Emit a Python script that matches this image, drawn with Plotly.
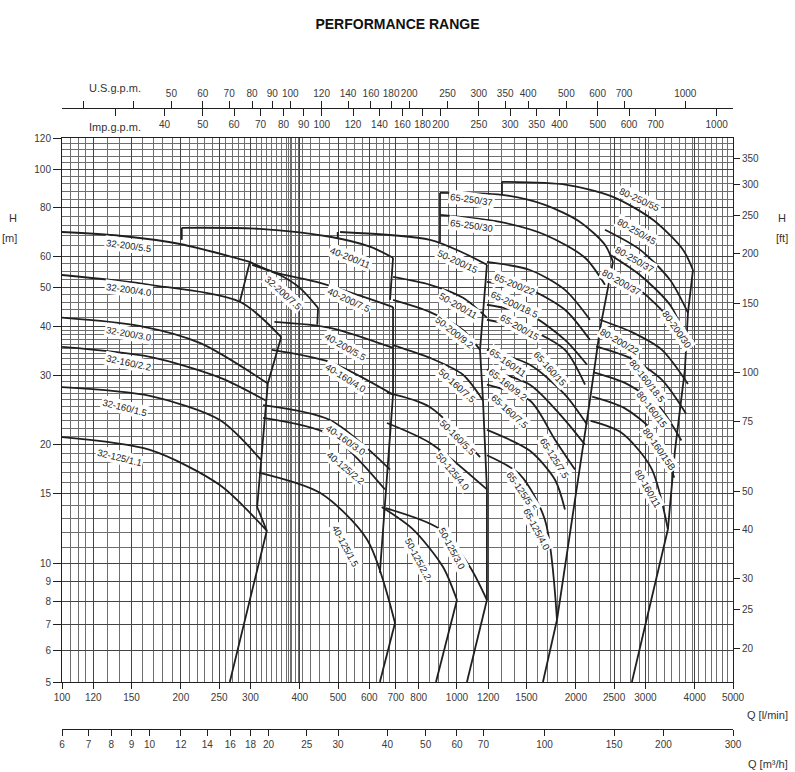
import numpy as np
import plotly.graph_objects as go

# ---- axis ticks ----
Q_TICKS = [100, 120, 150, 200, 250, 300, 400, 500, 600, 700, 800, 1000, 1200, 1500,
           2000, 2500, 3000, 4000, 5000]
M3H_TICKS = [6, 7, 8, 9, 10, 12, 14, 16, 18, 20, 25, 30, 40, 50, 60, 70, 100, 150, 200, 300]
US_TICKS = [30, 40, 50, 60, 70, 80, 90, 100, 120, 140, 160, 180, 200, 250, 300, 350,
            400, 500, 600, 700, 1000]
US_LABELS = ['', ''] + [str(v) for v in US_TICKS[2:]]
IMP_TICKS = [30, 40, 50, 60, 70, 80, 90, 100, 120, 140, 160, 180, 200, 250, 300, 350,
             400, 500, 600, 700, 1000]
IMP_LABELS = [''] + [str(v) for v in IMP_TICKS[1:]]
H_TICKS = [5, 6, 7, 8, 9, 10, 15, 20, 30, 40, 50, 60, 80, 100, 120]
FT_TICKS = [20, 25, 30, 40, 50, 75, 100, 150, 200, 250, 300, 350]

# ---- pump curves (Q in l/min, H in m) ----
CURVES_32 = [
    ([100, 140, 199, 299], [69.3, 67.8, 64.6, 58.2]),
    ([100, 167, 282, 359], [53.9, 50.9, 46.1, 37.5]),
    ([100, 158, 224, 332], [42.0, 40.0, 36.2, 28.6]),
    ([100, 167, 251, 328], [35.4, 33.4, 29.6, 25.9]),
    ([100, 167, 251, 319], [28.0, 26.6, 23.1, 18.3]),
    ([100, 167, 251, 330], [20.9, 19.4, 15.8, 12.1]),
    ([303, 356, 400, 445], [57.2, 53.9, 50.0, 44.5]),
]
EDGES_32 = [
    ([299, 282], [58.2, 46.1]),
    ([445, 443], [44.5, 40.3]),
    ([359, 332, 312, 330, 266], [37.5, 28.6, 13.9, 12.1, 5.0]),
]

CURVES_40 = [
    ([201, 317, 477, 602, 689], [71.0, 70.6, 67.4, 63.6, 59.6]),
    ([299, 342, 450, 578, 689], [58.2, 54.9, 51.5, 47.5, 44.7]),
    ([345, 477, 689], [41.0, 39.6, 35.2]),
    ([340, 477, 689], [34.8, 32.4, 26.8]),
    ([323, 477, 677], [25.2, 23.1, 17.3]),
    ([323, 477, 657], [23.4, 21.2, 15.4]),
    ([315, 450, 592, 697], [17.0, 15.1, 11.5, 7.06]),
]
EDGES_40 = [
    ([201, 201], [71.0, 66.2]),
    ([689, 677], [59.6, 46.6]),
    ([689, 689, 638], [44.7, 26.8, 9.46]),
    ([697, 638], [7.06, 5.0]),
]

CURVES_50 = [
    ([506, 855, 1036, 1191], [69.3, 66.2, 61.4, 57.2]),
    ([689, 855, 1036, 1191], [53.3, 50.9, 47.2, 42.0]),
    ([689, 855, 1036, 1144], [46.6, 43.4, 39.1, 34.8]),
    ([689, 855, 1036, 1164], [35.8, 33.2, 30.1, 25.9]),
    ([665, 855, 1144], [27.1, 24.9, 18.6]),
    ([665, 855, 1191], [22.7, 20.2, 15.4]),
    ([660, 906, 1079, 1191], [13.8, 12.2, 9.79, 8.07]),
    ([645, 774, 922, 1000], [13.9, 12.2, 9.79, 8.07]),
]
EDGES_50 = [
    ([499, 499], [69.3, 67.0]),
    ([1191, 1144, 1164, 1191, 1191], [57.2, 34.8, 25.9, 15.4, 8.07]),
    ([1000, 885], [8.07, 5.0]),
    ([1191, 1060], [8.07, 5.0]),
]

CURVES_65 = [
    ([906, 1300, 1670, 2049, 2370, 2483], [87.1, 86.1, 81.2, 73.5, 64.3, 58.2]),
    ([906, 1285, 1670, 2110, 2370], [76.6, 73.5, 68.2, 59.6, 50.9]),
    ([1191, 1530, 1877, 2171], [58.2, 55.5, 49.4, 41.5]),
    ([1191, 1530, 1877, 2171], [51.8, 49.4, 44.0, 36.9]),
    ([1191, 1530, 1877, 2135], [45.3, 42.7, 36.9, 31.9]),
    ([1191, 1530, 1877, 2110], [41.5, 39.1, 34.8, 28.4]),
    ([1191, 1530, 1877, 2135], [34.8, 31.9, 26.8, 22.5]),
    ([1191, 1530, 1877, 2110], [31.0, 28.4, 23.1, 20.0]),
    ([1191, 1530, 1771, 1990], [28.4, 25.9, 20.6, 17.3]),
    ([1191, 1530, 1771, 1877], [21.8, 19.3, 16.3, 13.7]),
    ([1191, 1444, 1670, 1792], [18.8, 16.8, 12.9, 7.19]),
]
EDGES_65 = [
    ([906, 906], [87.1, 65.4]),
    ([2483, 2301, 2171, 1990, 1792], [58.2, 39.1, 25.9, 14.4, 7.19]),
    ([1792, 1651], [7.19, 5.0]),
]

CURVES_80 = [
    ([1300, 1896, 2483, 3135, 3735, 3959], [92.9, 91.3, 85.1, 74.4, 62.5, 55.5]),
    ([2370, 2906, 3461, 3845], [70.2, 62.5, 52.4, 43.2]),
    ([2440, 2906, 3461, 3777], [60.7, 53.9, 45.3, 38.0]),
    ([2440, 2906, 3461, 3777], [55.5, 49.4, 41.5, 34.8]),
    ([2301, 2773, 3304, 3845], [41.5, 38.6, 34.8, 28.5]),
    ([2250, 2773, 3304, 3800], [35.5, 33.0, 29.2, 24.0]),
    ([2220, 2700, 3250, 3700], [30.5, 28.5, 25.0, 20.5]),
    ([2200, 2650, 3150, 3550], [26.5, 24.8, 21.5, 16.5]),
    ([2180, 2600, 3100, 3421], [23.0, 21.5, 17.5, 12.2]),
]
EDGES_80 = [
    ([1300, 1300], [92.9, 86.1]),
    ([3959, 3845, 3777, 3564, 3421], [55.5, 43.2, 31.0, 19.3, 12.2]),
    ([3421, 2773], [12.2, 5.0]),
]

# ---- curve labels: text, Q, H, angle ----
LABELS = [
    ('32-200/5.5', 147, 63.9, 8), ('32-200/4.0', 147, 49.4, 8),
    ('32-200/3.0', 147, 38.4, 10), ('32-160/2.2', 147, 32.4, 12),
    ('32-160/1.5', 144, 24.8, 14), ('32-125/1.1', 140, 18.6, 14),
    ('32-200/7.5', 363, 48.8, 42),
    ('40-200/11', 536, 59.6, 22), ('40-200/7.5', 530, 46.6, 25),
    ('40-200/5.5', 521, 35.6, 30), ('40-160/4.0', 521, 29.6, 32),
    ('40-160/3.0', 521, 20.6, 35), ('40-125/2.2', 521, 17.5, 40),
    ('40-125/1.5', 521, 11.1, 62),
    ('50-200/15', 1006, 58.2, 25), ('50-200/11', 1006, 45.0, 30),
    ('50-200/9.2', 988, 38.6, 38), ('50-160/7.5', 1000, 28.2, 42),
    ('50-160/5.5', 1006, 20.9, 45), ('50-125/4.0', 977, 17.1, 50),
    ('50-125/3.0', 971, 10.9, 62), ('50-125/2.2', 797, 10.3, 62),
    ('65-250/37', 1091, 83.8, 8), ('65-250/30', 1091, 71.8, 8),
    ('65-200/22', 1402, 50.9, 22), ('65-200/18.5', 1402, 45.3, 25),
    ('65-200/15', 1444, 39.6, 30), ('65-160/15', 1722, 31.3, 48),
    ('65-160/11', 1346, 32.4, 35), ('65-160/9.2', 1346, 28.4, 38),
    ('65-160/7.5', 1362, 24.3, 42), ('65-125/7.5', 1771, 18.5, 58),
    ('65-125/5.5', 1461, 15.2, 55), ('65-125/4.0', 1594, 12.2, 62),
    ('80-250/55', 2906, 83.8, 25), ('80-250/45', 2856, 69.3, 30),
    ('80-250/37', 2822, 58.9, 30), ('80-200/37', 2617, 51.5, 30),
    ('80-200/30', 3606, 39.1, 55), ('80-200/22', 2584, 36.5, 30),
    ('80-160/18.5', 3044, 29.0, 52), ('80-160/15', 3116, 24.5, 52),
    ('80-160/15B', 3265, 19.5, 55), ('80-160/11', 3044, 15.5, 60),
]

# grid lines of the log paper
grid_q = (list(range(100, 120, 5)) + list(range(120, 400, 10)) + list(range(400, 700, 25))
          + list(range(700, 1000, 50)) + list(range(1000, 2000, 100)) + list(range(2000, 5001, 150))
          + list(range(374, 410, 8)))
grid_h = list(range(5, 41)) + [42, 44, 46, 48, 50, 52.5, 55, 57.5, 60] + list(range(64, 121, 4))

LINE = '#202020'
NARROW = 'Liberation Sans Narrow, Liberation Sans, Arial, sans-serif'
TICKFONT = dict(family=NARROW, size=10, color='#3a3a3a')

fig = go.Figure()

for group in (CURVES_32, CURVES_40, CURVES_50, CURVES_65, CURVES_80):
    for q, h in group:
        fig.add_trace(go.Scatter(x=q, y=h, mode='lines', hoverinfo='skip', showlegend=False,
                                 line=dict(color=LINE, width=1.8, shape='spline', smoothing=0.8)))
for group in (EDGES_32, EDGES_40, EDGES_50, EDGES_65, EDGES_80):
    for q, h in group:
        fig.add_trace(go.Scatter(x=q, y=h, mode='lines', hoverinfo='skip', showlegend=False,
                                 line=dict(color=LINE, width=1.8)))

# empty traces so every scale axis is drawn
for xa, ya in (('x2', 'y'), ('x3', 'y'), ('x4', 'y'), ('x', 'y2')):
    fig.add_trace(go.Scatter(x=[], y=[], xaxis=xa, yaxis=ya, showlegend=False))

for text, q, h, ang in LABELS:
    fig.add_annotation(x=np.log10(q), y=np.log10(h), xref='x', yref='y', text=text,
                       showarrow=False, textangle=ang, bgcolor='white', borderpad=1,
                       font=dict(family=NARROW, size=9.5, color='#222'))

y_dom = [47 / 621, 591 / 621]
axis_common = dict(type='log', showline=True, linecolor=LINE, linewidth=1, ticks='outside',
                   tickcolor=LINE, tickfont=TICKFONT, zeroline=False, tickangle=0,
                   automargin=False)

fig.update_layout(
    width=795, height=772,
    margin=dict(l=62, r=62, t=108, b=43),
    plot_bgcolor='white', paper_bgcolor='white',
    title=dict(text='<b>PERFORMANCE RANGE</b>', x=0.5, xanchor='center', y=1 - 24 / 772,
               yanchor='middle',
               font=dict(family='Liberation Sans, Arial, sans-serif', size=14, color='#111')),
    xaxis=dict(axis_common, range=[2, np.log10(5000)], tickvals=Q_TICKS, ticklen=6,
               mirror=True, showgrid=True, gridcolor='#444', gridwidth=1,
               minor=dict(tickvals=grid_q, showgrid=True, gridcolor='#6e6e6e', gridwidth=0.8,
                          ticks='')),
    yaxis=dict(axis_common, domain=y_dom, range=[np.log10(5), np.log10(120)], tickvals=H_TICKS,
               ticklen=8, mirror=True, showgrid=True, gridcolor='#444', gridwidth=1,
               minor=dict(tickvals=grid_h, showgrid=True, gridcolor='#6e6e6e', gridwidth=0.8,
                          ticks='')),
    yaxis2=dict(axis_common, overlaying='y', side='right', anchor='x',
                range=[np.log10(5 * 3.28084), np.log10(120 * 3.28084)], tickvals=FT_TICKS,
                ticklen=6, showgrid=False),
    xaxis2=dict(axis_common, overlaying='x', anchor='free', position=0, side='bottom',
                range=[np.log10(6), np.log10(300)], tickvals=M3H_TICKS, ticklen=6, showgrid=False),
    xaxis3=dict(axis_common, overlaying='x', anchor='free', position=1, side='top',
                range=[np.log10(100 / 3.78541), np.log10(5000 / 3.78541)], tickvals=US_TICKS,
                ticktext=US_LABELS, ticklen=7, showgrid=False),
    xaxis4=dict(axis_common, overlaying='x', anchor='free', position=1, side='bottom',
                range=[np.log10(100 / 4.54609), np.log10(5000 / 4.54609)], tickvals=IMP_TICKS,
                ticktext=IMP_LABELS, ticklen=7, showgrid=False),
)

side_font = dict(family=NARROW, size=11, color='#333')
for text, px, py, xa in (('U.S.g.p.m.', 0.079, 1.032, 'center'), ('Imp.g.p.m.', 0.079, 0.969, 'center'),
                         ('H', -0.073, 0.823, 'center'), ('[m]', -0.078, 0.791, 'center'),
                         ('H', 1.073, 0.823, 'center'), ('[ft]', 1.073, 0.791, 'center'),
                         ('Q [l/min]', 1.085, 0.0225, 'right'), ('Q [m³/h]', 1.085, -0.056, 'right')):
    fig.add_annotation(x=px, y=py, xref='paper', yref='paper', text=text, showarrow=False,
                       xanchor=xa, yanchor='middle', font=side_font)

# the page body default margin would push the fixed-size figure off the window
fig.write_html('out.html', config={'displayModeBar': False},
               post_script="document.body.style.margin='0px';")
